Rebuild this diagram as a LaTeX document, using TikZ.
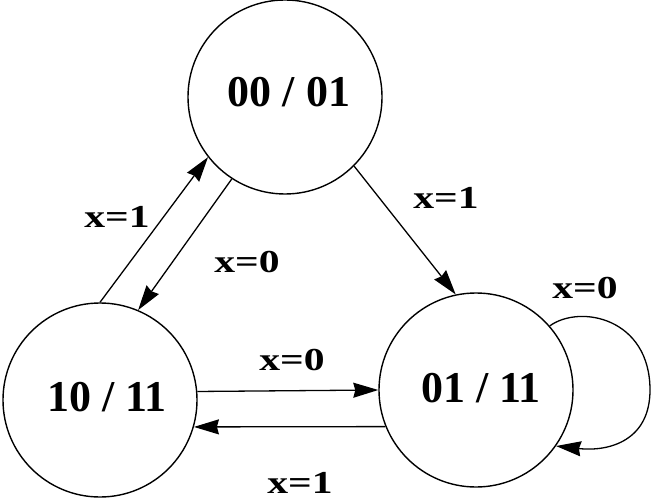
\documentclass[tikz,border=0pt]{standalone}
\usepackage{fontspec}
\setmainfont{Liberation Serif}
\usepackage{graphicx}
\usetikzlibrary{arrows.meta}
\newcommand\lbltxt[1]{\scalebox{1.3}[1]{#1}}
\begin{document}
\begin{tikzpicture}[x=1bp,y=-1bp,
  state/.style={circle, draw, line width=1.4bp, minimum size=194bp, inner sep=0pt},
  stxt/.style={font=\fontsize{44bp}{48bp}\selectfont\bfseries, inner sep=0pt},
  lbl/.style={font=\fontsize{32bp}{34bp}\selectfont\bfseries, inner sep=0pt},
  edge/.style={line width=1.3bp, -{Stealth[length=25bp,width=15bp,inset=2bp]}}]
\useasboundingbox (0,0) rectangle (652,500);
\node[state, label={[stxt, xshift=4bp, yshift=5bp]center:00 / 01}] (A) at (285,97) {};
\node[state, label={[stxt, xshift=7bp, yshift=3bp]center:10 / 11}] (L) at (100,400) {};
\node[state, label={[stxt, xshift=5bp, yshift=2bp]center:01 / 11}] (R) at (476,390) {};
% edges
\draw[edge] (L.90) -- (A.218);
\draw[edge] (A.237) -- (L.67);
\draw[edge] (A.315) -- (R.102);
\draw[edge] (L.5) -- (R.180);
\draw[edge] (R.202) -- (L.-16);
\coordinate (loopE) at (650,390);
\draw[edge] (R.41) .. controls (580,304) and (650,318) .. (loopE)
  .. controls (650,440) and (610,452) .. (R.-35);
% labels
\node[lbl] (l1) at (117,217) {\lbltxt{x=1}};
\node[lbl] (l2) at (247,262) {\lbltxt{x=0}};
\node[lbl] (l3) at (446,198) {\lbltxt{x=1}};
\node[lbl] (l4) at (585,288) {\lbltxt{x=0}};
\node[lbl] (l5) at (292,360) {\lbltxt{x=0}};
\node[lbl] (l6) at (300,483) {\lbltxt{x=1}};
\end{tikzpicture}
\end{document}
